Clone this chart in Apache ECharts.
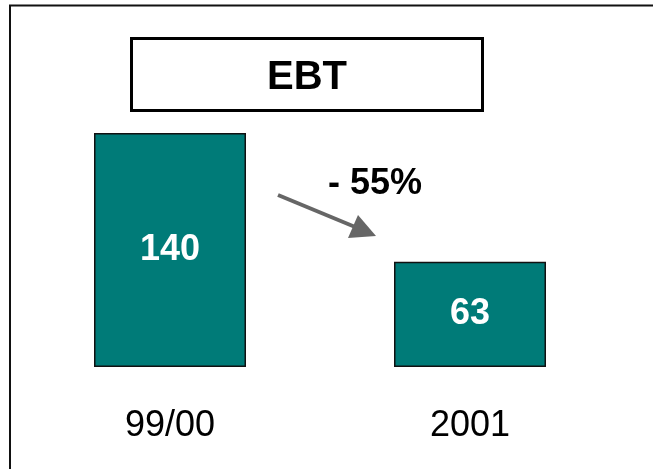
<!DOCTYPE html>
<html lang="de">
<head>
    <meta charset="UTF-8">
    <title>EBT</title>
    <script src="https://cdn.jsdelivr.net/npm/echarts@6/dist/echarts.min.js"></script>
</head>
<body style="margin:0">
    <div id="main" style="width:653px;height:469px"></div>
    <script>
        var chart = echarts.init(document.getElementById('main'));

        var categories = ['99/00', '2001'];
        var ebt = [140, 63];
        var changeLabel = '- 55%';

        var font = '"Liberation Sans", Arial, sans-serif';

        var option = {
            backgroundColor: '#fff',
            animation: false,
            title: {
                text: 'EBT',
                left: 267,
                top: 58,
                padding: 0,
                textStyle: { fontSize: 40, fontWeight: 'bold', color: '#000', fontFamily: font }
            },
            grid: { left: 20, width: 600, top: 133, height: 234 },
            xAxis: {
                type: 'category',
                data: categories,
                axisLine: { show: false },
                axisTick: { show: false },
                axisLabel: { margin: 41, fontSize: 36, color: '#000', fontFamily: font }
            },
            yAxis: {
                type: 'value',
                min: 0,
                max: 'dataMax',
                show: false
            },
            series: [{
                type: 'bar',
                data: ebt,
                barWidth: 152,
                itemStyle: { color: '#007b78', borderColor: '#111', borderWidth: 1.5 },
                label: {
                    show: true,
                    position: 'inside',
                    color: '#fff',
                    fontSize: 36,
                    fontWeight: 'bold',
                    fontFamily: font
                }
            }],
            graphic: [
                // outer frame
                { type: 'rect', z: 0, shape: { x: 10, y: 5.5, width: 700, height: 500 },
                  style: { fill: 'none', stroke: '#111', lineWidth: 2 } },
                // title box
                { type: 'rect', shape: { x: 131.5, y: 38.5, width: 351, height: 72 },
                  style: { fill: '#fff', stroke: '#000', lineWidth: 3 } },
                // arrow
                { type: 'line', shape: { x1: 278, y1: 195, x2: 360, y2: 229 },
                  style: { stroke: '#666', lineWidth: 4 } },
                { type: 'polygon', shape: { points: [[376, 236], [348, 238], [358, 215]] },
                  style: { fill: '#666' } },
                { type: 'text', x: 375, y: 184,
                  style: { text: changeLabel, fontSize: 36, fontWeight: 'bold', fill: '#000',
                           fontFamily: font, align: 'center', verticalAlign: 'middle' } }
            ]
        };
        chart.setOption(option);
    </script>
</body>
</html>
